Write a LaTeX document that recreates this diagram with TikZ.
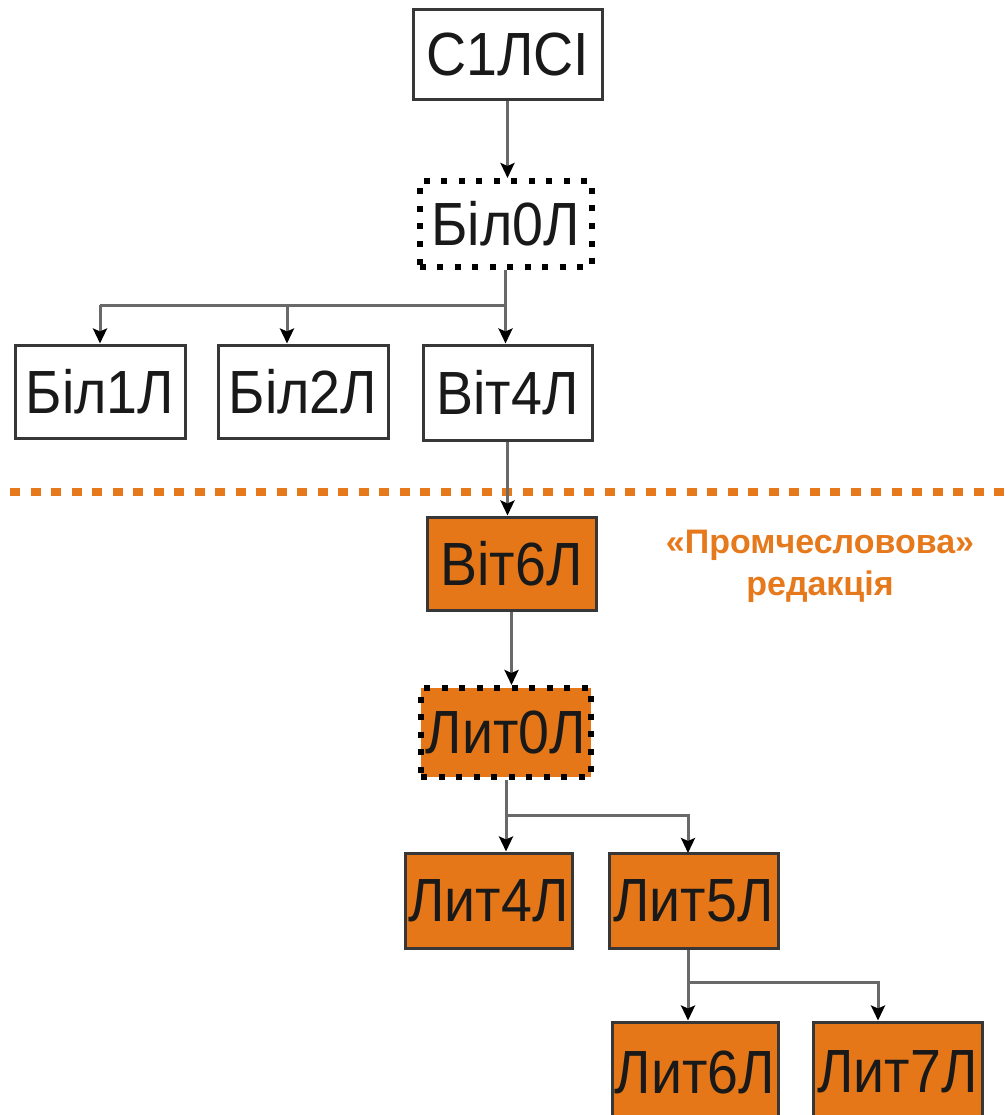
\documentclass[tikz,border=0pt]{standalone}
\usepackage{fontspec}
\setmainfont{Liberation Sans}
\newfontfamily\boxfont{Liberation Sans}[FakeStretch=0.91]
\usetikzlibrary{arrows.meta}
\definecolor{lineorange}{RGB}{230,121,28}
\definecolor{boxorange}{RGB}{229,119,24}
\definecolor{conngray}{RGB}{105,105,105}
\definecolor{edgegray}{RGB}{55,55,55}
\tikzset{
  stage/.style={draw=edgegray, line width=3pt, fill=white, inner sep=0pt,
    font=\boxfont\fontsize{61}{61}\selectfont, text=black!90},
  dotbox/.style={stage, draw=black, line width=6pt, dash pattern=on 6pt off 11.5pt},
  late/.style={fill=boxorange},
  conn/.style={draw=conngray, line width=3pt,
    -{Stealth[length=15pt,width=14pt,inset=3pt,fill=black,color=black]}},
  link/.style={draw=conngray, line width=3pt},
}
\begin{document}
\begin{tikzpicture}[x=1pt,y=-1pt]
\useasboundingbox (0,0) rectangle (1008,1115);
\clip (0,0) rectangle (1008,1115);

% upper stages
\node[stage, minimum width=189pt, minimum height=90pt] (c1) at (507.5,55) {С1ЛСІ};
\node[dotbox, minimum width=172pt, minimum height=86pt] (b0) at (505.5,224) {Біл0Л};
\node[stage, minimum width=170pt, minimum height=93pt] (b1) at (100,391.5) {Біл1Л};
\node[stage, minimum width=170pt, minimum height=93pt] (b2) at (303,391.5) {Біл2Л};
\node[stage, minimum width=169pt, minimum height=95pt] (v4) at (507.5,392.5) {Віт4Л};

% boundary of the later redaction
\coordinate (sepL) at (10,492);
\coordinate (sepR) at (1008,492);
\draw[lineorange, line width=8pt, dash pattern=on 10pt off 10.5pt] (sepL) -- (sepR);
\node[font=\bfseries\fontsize{34}{42}\selectfont, text=lineorange, align=center]
  (lbl) at (820,566) {«Промчесловова»\\редакція};

% lower stages
\node[stage, late, minimum width=169pt, minimum height=93pt] (v6) at (511.5,563.5) {Віт6Л};
\node[dotbox, late, minimum width=170pt, minimum height=89pt] (l0) at (506,732.5) {Лит0Л};
\node[stage, late, minimum width=167pt, minimum height=95pt] (l4) at (488.5,900.5) {Лит4Л};
\node[stage, late, minimum width=169pt, minimum height=95pt] (l5) at (693.5,900.5) {Лит5Л};
\node[stage, late, minimum width=166pt, minimum height=100pt] (l6) at (695,1072) {Лит6Л};
\node[stage, late, minimum width=169pt, minimum height=100pt] (l7) at (897.5,1072) {Лит7Л};

% connectors
\draw[conn] (c1.south) -- (c1.south |- b0.north);
\coordinate (j1) at (507,305);
\draw[conn] (b0.south) -- (b0.south |- v4.north);
\draw[link] (j1) -- (j1 -| b1.north);
\draw[conn] (j1 -| b1.north) -- (b1.north);
\coordinate (b2in) at ([xshift=-16pt]b2.north);
\draw[conn] (b2in |- j1) -- (b2in);

\draw[conn] (v4.south) -- (v4.south |- v6.north);
\draw[conn] (v6.south) -- (v6.south |- l0.north);

\coordinate (j2) at (506,815);
\coordinate (l5in) at (688,853);
\draw[conn] (l0.south) -- (l0.south |- l4.north);
\draw[conn] (j2) -| (l5in);

\coordinate (j3) at (688,982);
\coordinate (l7in) at ([xshift=-19.5pt]l7.north);
\draw[conn] (l5in |- l5.south) -- (l5in |- l6.north);
\draw[conn] (j3) -| (l7in);
\end{tikzpicture}
\end{document}
